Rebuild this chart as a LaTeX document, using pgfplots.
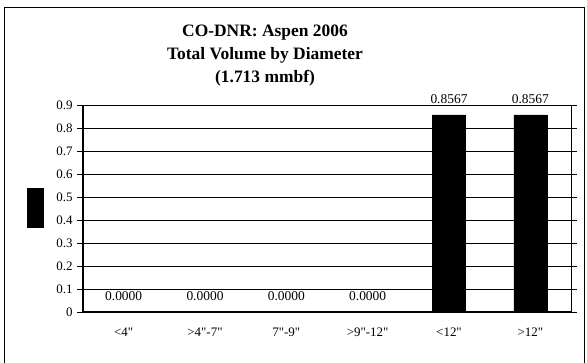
\documentclass[border=0pt]{standalone}
\usepackage{fontspec}
\setmainfont{Liberation Serif}
\newfontfamily\qfont{Liberation Serif}[Ligatures=ResetAll]
\usepackage{pgfplots}
\pgfplotsset{compat=1.18}
\begin{document}
\begin{tikzpicture}[x=1bp,y=1bp]
\useasboundingbox (-83,-50) rectangle (504,312);
\begin{axis}[
  scale only axis,
  width=488bp, height=207bp,
  ymin=0, ymax=0.9,
  xmin=-0.5, xmax=5.5,
  ytick={0,0.1,...,0.9},
  yticklabel style={/pgf/number format/fixed, /pgf/number format/precision=1, font=\fontsize{13}{14}\selectfont, xshift=-1bp},
  /pgf/number format/assume math mode=true,
  ymajorgrids, grid style={black, line width=0.8pt},
  xtick={0,...,5},
  xticklabels={<4",>4"-7",7"-9",>9"-12",<12",>12"},
  xticklabel style={font=\qfont\fontsize{13}{14}\selectfont, yshift=-6bp},
  extra x ticks={-0.5,0.5,1.5,2.5,3.5,4.5,5.5},
  extra x tick labels={},
  extra x tick style={major tick length=5bp, tick style={black, line width=0.8pt}, grid=none},
  tick align=outside,
  major tick length=6bp,
  x tick style={draw=none},
  y tick style={black, line width=0.8pt},
  axis line style={black, line width=0.8pt},
  ybar, bar width=33bp,
  nodes near coords,
  nodes near coords style={/pgf/number format/fixed, /pgf/number format/fixed zerofill, /pgf/number format/precision=4, /pgf/number format/assume math mode=true, font=\fontsize{13.5}{15}\selectfont, yshift=8bp},
  clip=false,
]
\addplot[fill=black, draw=black] coordinates {(0,0) (1,0) (2,0) (3,0) (4,0.8567) (5,0.8567)};
\draw[line width=1.5pt] (rel axis cs:0,0) -- (rel axis cs:0,1);
\draw[line width=1.5pt] (rel axis cs:0,0) -- (rel axis cs:1,0);
\end{axis}
\fill[black] (-56,84) rectangle (-39,124);
\draw[line width=0.8pt] (-79,-55) -- (-79,305) -- (501,305) -- (501,-55);
\node[font=\bfseries\fontsize{17.5}{19}\selectfont, anchor=base] at (182,276) {CO-DNR: Aspen 2006};
\node[font=\bfseries\fontsize{17.5}{19}\selectfont, anchor=base] at (182,253) {Total Volume by Diameter};
\node[font=\bfseries\fontsize{17.5}{19}\selectfont, anchor=base] at (182,230) {(1.713 mmbf)};
\end{tikzpicture}
\end{document}
